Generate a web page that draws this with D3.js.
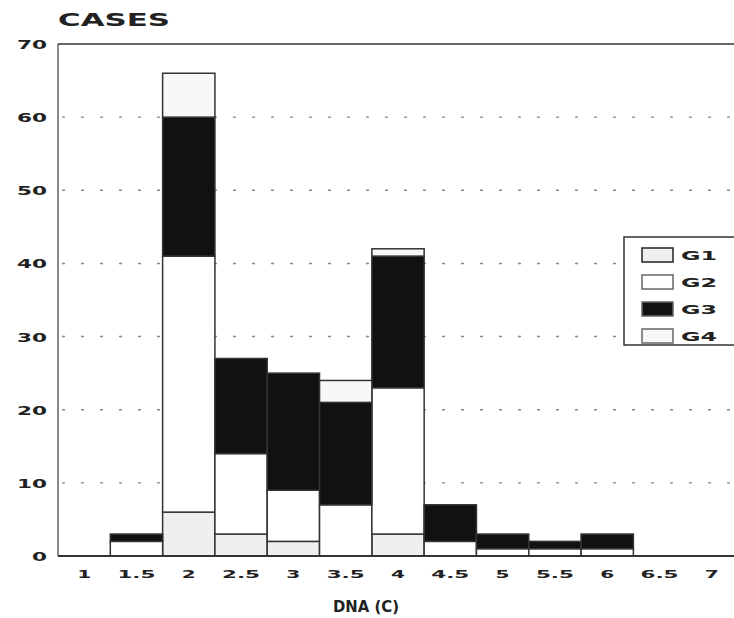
<!DOCTYPE html>
<html>
<head>
<meta charset="utf-8">
<script src="https://cdn.jsdelivr.net/npm/d3@7"></script>
<style>
  body { margin: 0; background: #fff; }
  text { font-family: "DejaVu Sans", sans-serif; fill: #222; }
</style>
</head>
<body>
<script>
// DNA content bins (tick labels) and case counts per group
const categories = ["1", "1.5", "2", "2.5", "3", "3.5", "4", "4.5", "5", "5.5", "6", "6.5", "7"];
const g1 = [0, 0, 6, 3, 2, 0, 3, 0, 0, 0, 0, 0, 0];
const g2 = [0, 2, 35, 11, 7, 7, 20, 2, 1, 1, 1, 0, 0];
const g3 = [0, 1, 19, 13, 16, 14, 18, 5, 2, 1, 2, 0, 0];
const g4 = [0, 0, 6, 0, 0, 3, 1, 0, 0, 0, 0, 0, 0];
const groups = ["G1", "G2", "G3", "G4"];
const yTicks = [0, 10, 20, 30, 40, 50, 60, 70];

const width = 734, height = 618;
const plotLeft = 58, plotTop = 44, plotBottom = 556;
const fills = { G1: "#efefef", G2: "#ffffff", G3: "#111111", G4: "#f8f8f8" };

// the scanned font is very wide: stretch labels to match
function wide(s, digitW, dotW) {
    return String(s).split("").reduce((a, ch) => a + (ch === "." ? dotW : digitW), 0);
}

const svg = d3.select("body").append("svg")
    .attr("width", width)
    .attr("height", height);

const x = d3.scaleBand().domain(categories).range([plotLeft, 738]).padding(0);
const y = d3.scaleLinear().domain([0, 70]).range([plotBottom, plotTop]);

// build table for stacking
const table = categories.map((c, i) => ({ cat: c, G1: g1[i], G2: g2[i], G3: g3[i], G4: g4[i] }));
const series = d3.stack().keys(groups)(table);

// dotted grid lines
svg.append("g").selectAll("line")
    .data(yTicks.filter(d => d > 0 && d < 70))
    .enter()
    .append("line")
    .attr("x1", plotLeft + 4).attr("x2", width)
    .attr("y1", d => y(d)).attr("y2", d => y(d))
    .attr("stroke", "#888")
    .attr("stroke-width", 1.4)
    .attr("stroke-dasharray", "3,16");

// stacked bars
svg.append("g").selectAll("g")
    .data(series)
    .enter()
    .append("g")
    .attr("fill", d => fills[d.key])
    .selectAll("rect")
    .data(d => d.filter(s => s[1] - s[0] > 0))
    .enter()
    .append("rect")
    .attr("x", d => x(d.data.cat))
    .attr("width", x.bandwidth())
    .attr("y", d => y(d[1]))
    .attr("height", d => y(d[0]) - y(d[1]))
    .attr("stroke", "#333")
    .attr("stroke-width", 1.5);

// frame: left axis, top line, baseline
svg.append("line").attr("x1", plotLeft).attr("x2", plotLeft).attr("y1", plotTop).attr("y2", plotBottom)
    .attr("stroke", "#666").attr("stroke-width", 1.5);
svg.append("line").attr("x1", plotLeft).attr("x2", width).attr("y1", plotTop).attr("y2", plotTop)
    .attr("stroke", "#333").attr("stroke-width", 1.5);
svg.append("line").attr("x1", plotLeft).attr("x2", width).attr("y1", plotBottom).attr("y2", plotBottom)
    .attr("stroke", "#333").attr("stroke-width", 2);

// y tick labels
svg.append("g").selectAll("text")
    .data(yTicks)
    .enter()
    .append("text")
    .attr("x", d => 47 - wide(d, 15, 9))
    .attr("y", d => y(d) + 5)
    .attr("font-size", 12)
    .attr("font-weight", "bold")
    .attr("fill", "#333")
    .attr("textLength", d => wide(d, 15, 9))
    .attr("lengthAdjust", "spacingAndGlyphs")
    .text(d => d);

// x tick labels
svg.append("g").selectAll("text")
    .data(categories)
    .enter()
    .append("text")
    .attr("x", d => x(d) + x.bandwidth() / 2 - wide(d, 14, 10) / 2)
    .attr("y", 578)
    .attr("font-size", 11)
    .attr("font-weight", "bold")
    .attr("fill", "#333")
    .attr("textLength", d => wide(d, 14, 10))
    .attr("lengthAdjust", "spacingAndGlyphs")
    .text(d => d);

// titles
svg.append("text")
    .attr("x", 58).attr("y", 26)
    .attr("font-size", 17)
    .attr("font-weight", "bold")
    .attr("textLength", 112)
    .attr("lengthAdjust", "spacingAndGlyphs")
    .text("CASES");

svg.append("text")
    .attr("x", 333).attr("y", 612)
    .attr("font-size", 15)
    .attr("font-weight", "bold")
    .attr("textLength", 66)
    .attr("lengthAdjust", "spacingAndGlyphs")
    .text("DNA (C)");

// legend
const legend = svg.append("g");
legend.append("rect")
    .attr("x", 624).attr("y", 237)
    .attr("width", 130).attr("height", 108)
    .attr("fill", "#fff")
    .attr("stroke", "#333").attr("stroke-width", 1.5);

const rows = legend.selectAll("g")
    .data(groups)
    .enter()
    .append("g")
    .attr("transform", (d, i) => "translate(0," + (255 + i * 27) + ")");
rows.append("rect")
    .attr("x", 642).attr("y", -7)
    .attr("width", 31).attr("height", 14)
    .attr("fill", d => fills[d])
    .attr("stroke", d => d === "G1" ? "#222" : "#666")
    .attr("stroke-width", 1.5);
rows.append("text")
    .attr("x", 681).attr("y", 5)
    .attr("font-size", 12)
    .attr("font-weight", "bold")
    .attr("fill", "#333")
    .attr("textLength", 36)
    .attr("lengthAdjust", "spacingAndGlyphs")
    .text(d => d);
</script>
</body>
</html>
